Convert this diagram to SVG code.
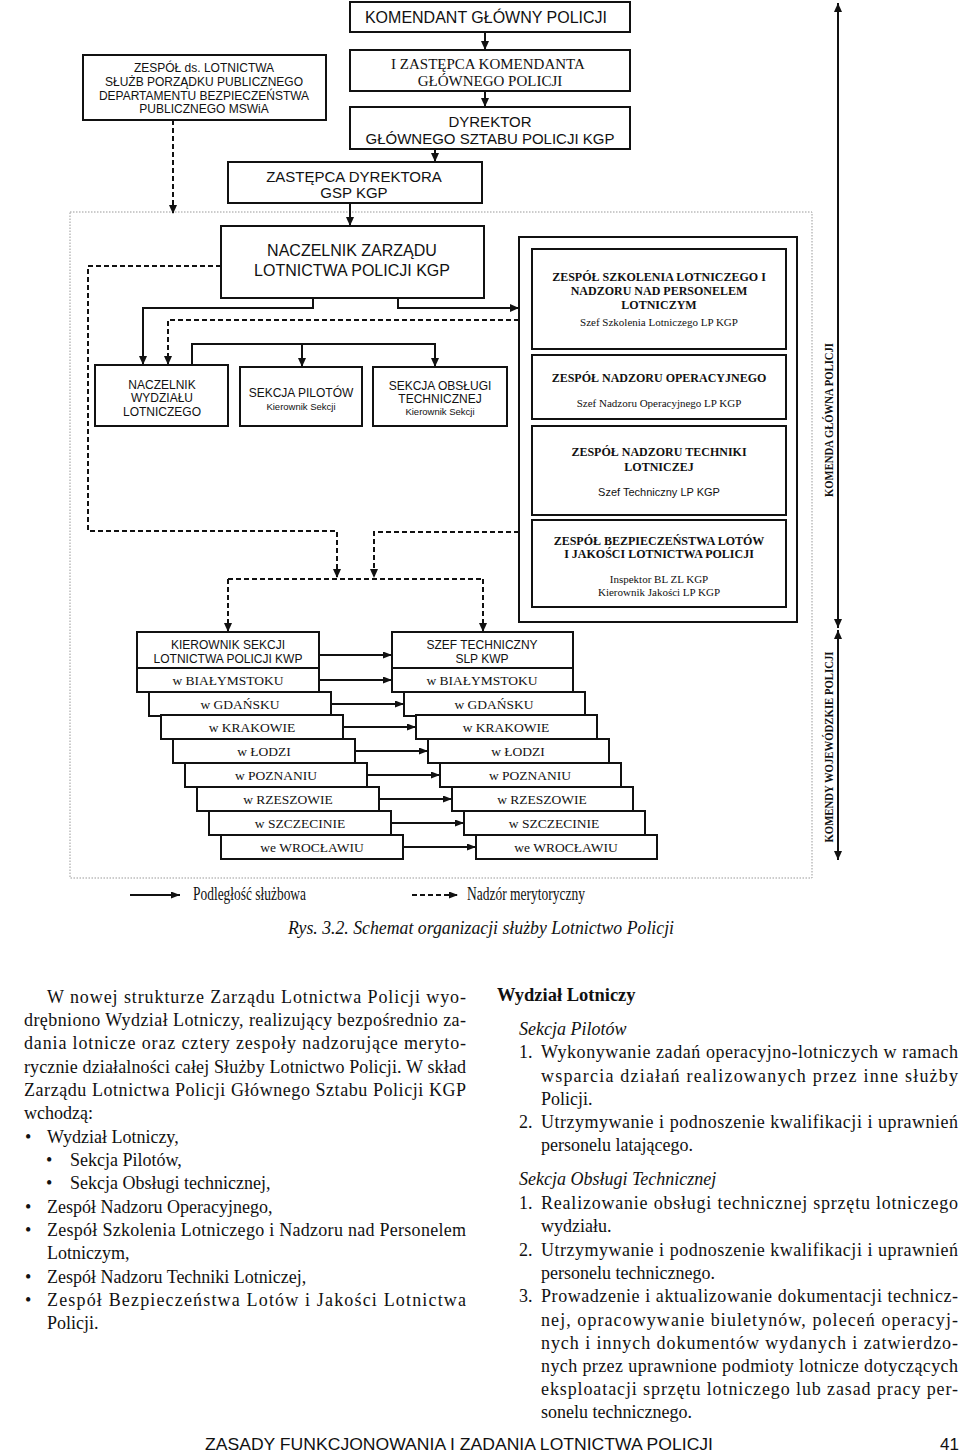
<svg xmlns="http://www.w3.org/2000/svg" width="960" height="1452" viewBox="0 0 960 1452">
<defs>
<marker id="ah" markerWidth="9" markerHeight="8" refX="9" refY="4" orient="auto-start-reverse" markerUnits="userSpaceOnUse"><path d="M0,0 L9,4 L0,8 z" fill="#111"/></marker>
<marker id="ahs" markerWidth="9" markerHeight="7" refX="9" refY="3.5" orient="auto" markerUnits="userSpaceOnUse"><path d="M0,0 L9,3.5 L0,7 z" fill="#111"/></marker>
<style>
.box{fill:#fff;stroke:#111;stroke-width:2}
.ln{fill:none;stroke:#111;stroke-width:2}
.ds{fill:none;stroke:#111;stroke-width:2;stroke-dasharray:5,3}
.sa{font-family:"Liberation Sans",Arial,sans-serif;fill:#111;text-anchor:middle}
.se{font-family:"Liberation Serif","Times New Roman",serif;fill:#111;text-anchor:middle}
.sb{font-family:"Liberation Serif","Times New Roman",serif;fill:#111;text-anchor:middle;font-weight:bold;font-size:12px}
.city{font-family:"Liberation Serif","Times New Roman",serif;fill:#111;text-anchor:middle;font-size:13.5px}
.body{font-family:"Liberation Serif","Times New Roman",serif;fill:#111;font-size:18px}
</style>
</defs>

<!-- outer dotted frame -->
<rect x="70" y="212" width="742" height="666" fill="none" stroke="#999" stroke-width="1" stroke-dasharray="1.5,1.5"/>

<g id="connectors">
<line class="ln" x1="485" y1="32" x2="485" y2="50" marker-end="url(#ah)"/>
<line class="ln" x1="485" y1="91" x2="485" y2="107" marker-end="url(#ah)"/>
<line class="ln" x1="435" y1="149" x2="435" y2="162" marker-end="url(#ah)"/>
<line class="ln" x1="350" y1="203" x2="350" y2="226" marker-end="url(#ah)"/>
<line class="ds" x1="173" y1="120" x2="173" y2="214" marker-end="url(#ah)"/>
<polyline class="ds" points="221,266 88,266 88,531 337,531 337,578" marker-end="url(#ah)"/>
<polyline class="ds" points="519,532 374,532 374,578" marker-end="url(#ah)"/>
<line class="ds" x1="228" y1="579" x2="483" y2="579"/>
<line class="ds" x1="228" y1="579" x2="228" y2="632" marker-end="url(#ah)"/>
<line class="ds" x1="483" y1="579" x2="483" y2="632" marker-end="url(#ah)"/>
<polyline class="ln" points="313,298 313,308 143,308 143,365" marker-end="url(#ah)"/>
<polyline class="ln" points="398,298 398,308 519,308" marker-end="url(#ah)"/>
<polyline class="ds" points="519,320 168,320 168,365" marker-end="url(#ah)"/>
<polyline class="ln" points="192,365 192,344 435,344 435,367" marker-end="url(#ah)"/>
<line class="ln" x1="302" y1="344" x2="302" y2="367" marker-end="url(#ah)"/>
<line class="ln" x1="319" y1="655" x2="392" y2="655" marker-end="url(#ahs)"/>
<line class="ln" x1="319" y1="680" x2="392" y2="680" marker-end="url(#ahs)"/>
<line class="ln" x1="331" y1="704" x2="404" y2="704" marker-end="url(#ahs)"/>
<line class="ln" x1="343" y1="727" x2="416" y2="727" marker-end="url(#ahs)"/>
<line class="ln" x1="355" y1="751" x2="428" y2="751" marker-end="url(#ahs)"/>
<line class="ln" x1="367" y1="775" x2="440" y2="775" marker-end="url(#ahs)"/>
<line class="ln" x1="379" y1="799" x2="452" y2="799" marker-end="url(#ahs)"/>
<line class="ln" x1="391" y1="823" x2="464" y2="823" marker-end="url(#ahs)"/>
<line class="ln" x1="403" y1="847" x2="476" y2="847" marker-end="url(#ahs)"/>
<line class="ln" x1="838" y1="3" x2="838" y2="628" marker-start="url(#ah)" marker-end="url(#ah)"/>
<line class="ln" x1="838" y1="630" x2="838" y2="860" marker-start="url(#ah)" marker-end="url(#ah)"/>
<line class="ln" x1="130" y1="895" x2="180" y2="895" marker-end="url(#ahs)"/>
<line class="ds" x1="412" y1="895" x2="458" y2="895" stroke-dasharray="4,3" marker-end="url(#ahs)"/>
</g>

<g id="komendant"><rect class="box" x="350" y="2" width="280" height="30"/><text class="sa" x="486" y="23" font-size="16">KOMENDANT GŁÓWNY POLICJI</text></g>
<g id="zastepca-komendanta"><rect class="box" x="350" y="50" width="280" height="41"/><text class="se" x="488" y="69" font-size="15">I ZASTĘPCA KOMENDANTA</text><text class="se" x="490" y="86" font-size="15">GŁÓWNEGO POLICJI</text></g>
<g id="dyrektor"><rect class="box" x="350" y="107" width="280" height="42"/><text class="sa" x="490" y="127" font-size="15">DYREKTOR</text><text class="sa" x="490" y="144" font-size="15">GŁÓWNEGO SZTABU POLICJI KGP</text></g>
<g id="zastepca-dyrektora"><rect class="box" x="228" y="162" width="254" height="41"/><text class="sa" x="354" y="182" font-size="15">ZASTĘPCA DYREKTORA</text><text class="sa" x="354" y="198" font-size="15">GSP KGP</text></g>
<g id="zespol-mswia"><rect class="box" x="83" y="55" width="243" height="65"/>
<text class="sa" x="204" y="72" font-size="12">ZESPÓŁ ds. LOTNICTWA</text>
<text class="sa" x="204" y="86" font-size="12">SŁUŻB PORZĄDKU PUBLICZNEGO</text>
<text class="sa" x="204" y="100" font-size="12">DEPARTAMENTU BEZPIECZEŃSTWA</text>
<text class="sa" x="204" y="113" font-size="12">PUBLICZNEGO MSWiA</text></g>

<g id="naczelnik-zarzadu"><rect class="box" x="221" y="226" width="263" height="72"/><text class="sa" x="352" y="256" font-size="16">NACZELNIK ZARZĄDU</text><text class="sa" x="352" y="276" font-size="16">LOTNICTWA POLICJI KGP</text></g>

<g id="naczelnik-wydzialu"><rect class="box" x="95" y="365" width="133" height="61"/><text class="sa" x="162" y="389" font-size="12">NACZELNIK</text><text class="sa" x="162" y="402" font-size="12">WYDZIAŁU</text><text class="sa" x="162" y="416" font-size="12">LOTNICZEGO</text></g>
<g id="sekcja-pilotow"><rect class="box" x="240" y="367" width="122" height="59"/><text class="sa" x="301" y="397" font-size="12">SEKCJA PILOTÓW</text><text class="sa" x="301" y="410" font-size="9.5">Kierownik Sekcji</text></g>
<g id="sekcja-obslugi"><rect class="box" x="373" y="367" width="134" height="59"/><text class="sa" x="440" y="390" font-size="12">SEKCJA OBSŁUGI</text><text class="sa" x="440" y="403" font-size="12">TECHNICZNEJ</text><text class="sa" x="440" y="415" font-size="9.5">Kierownik Sekcji</text></g>

<g id="zespoly-kgp"><rect class="box" x="519" y="237" width="278" height="385"/>
<g id="zespol-szkolenia"><rect class="box" x="532" y="249" width="254" height="100"/>
<text class="sb" x="659" y="281">ZESPÓŁ SZKOLENIA LOTNICZEGO I</text>
<text class="sb" x="659" y="295">NADZORU NAD PERSONELEM</text>
<text class="sb" x="659" y="309">LOTNICZYM</text>
<text class="se" x="659" y="326" font-size="11">Szef Szkolenia Lotniczego LP KGP</text></g>
<g id="zespol-operacyjny"><rect class="box" x="532" y="355" width="254" height="64"/>
<text class="sb" x="659" y="382">ZESPÓŁ NADZORU OPERACYJNEGO</text>
<text class="se" x="659" y="407" font-size="11">Szef  Nadzoru Operacyjnego LP KGP</text></g>
<g id="zespol-techniki"><rect class="box" x="532" y="426" width="254" height="89"/>
<text class="sb" x="659" y="456">ZESPÓŁ NADZORU TECHNIKI</text>
<text class="sb" x="659" y="471">LOTNICZEJ</text>
<text class="sa" x="659" y="496" font-size="11">Szef Techniczny LP KGP</text></g>
<g id="zespol-bezpieczenstwa"><rect class="box" x="532" y="520" width="254" height="87"/>
<text class="sb" x="659" y="545">ZESPÓŁ BEZPIECZEŃSTWA LOTÓW</text>
<text class="sb" x="659" y="558">I JAKOŚCI LOTNICTWA POLICJI</text>
<text class="se" x="659" y="583" font-size="11">Inspektor BL ZL KGP</text>
<text class="se" x="659" y="596" font-size="11">Kierownik Jakości LP KGP</text></g>
</g>

<g id="kwp-kierownicy">
<rect class="box" x="137" y="632" width="182" height="36"/>
<text class="sa" x="228" y="649" font-size="12">KIEROWNIK SEKCJI</text>
<text class="sa" x="228" y="663" font-size="12">LOTNICTWA POLICJI KWP</text>
<rect class="box" x="137" y="668" width="182" height="24"/><text class="city" x="228" y="685">w BIAŁYMSTOKU</text>
<rect class="box" x="149" y="692" width="182" height="24"/><text class="city" x="240" y="709">w GDAŃSKU</text>
<rect class="box" x="161" y="715" width="182" height="24"/><text class="city" x="252" y="732">w KRAKOWIE</text>
<rect class="box" x="173" y="739" width="182" height="24"/><text class="city" x="264" y="756">w ŁODZI</text>
<rect class="box" x="185" y="763" width="182" height="24"/><text class="city" x="276" y="780">w POZNANIU</text>
<rect class="box" x="197" y="787" width="182" height="24"/><text class="city" x="288" y="804">w RZESZOWIE</text>
<rect class="box" x="209" y="811" width="182" height="24"/><text class="city" x="300" y="828">w SZCZECINIE</text>
<rect class="box" x="221" y="835" width="182" height="24"/><text class="city" x="312" y="852">we WROCŁAWIU</text>
</g>

<g id="kwp-szefowie">
<rect class="box" x="392" y="632" width="181" height="36"/>
<text class="sa" x="482" y="649" font-size="12">SZEF TECHNICZNY</text>
<text class="sa" x="482" y="663" font-size="12">SLP KWP</text>
<rect class="box" x="392" y="668" width="181" height="24"/><text class="city" x="482" y="685">w BIAŁYMSTOKU</text>
<rect class="box" x="404" y="692" width="181" height="24"/><text class="city" x="494" y="709">w GDAŃSKU</text>
<rect class="box" x="416" y="715" width="181" height="24"/><text class="city" x="506" y="732">w KRAKOWIE</text>
<rect class="box" x="428" y="739" width="181" height="24"/><text class="city" x="518" y="756">w ŁODZI</text>
<rect class="box" x="440" y="763" width="181" height="24"/><text class="city" x="530" y="780">w POZNANIU</text>
<rect class="box" x="452" y="787" width="181" height="24"/><text class="city" x="542" y="804">w RZESZOWIE</text>
<rect class="box" x="464" y="811" width="181" height="24"/><text class="city" x="554" y="828">w SZCZECINIE</text>
<rect class="box" x="476" y="835" width="181" height="24"/><text class="city" x="566" y="852">we WROCŁAWIU</text>
</g>

<g id="labels-vertical">
<text class="sb" font-size="10" transform="translate(833,420) rotate(-90)" textLength="154" lengthAdjust="spacingAndGlyphs">KOMENDA GŁÓWNA POLICJI</text>
<text class="sb" font-size="10" transform="translate(833,747) rotate(-90)" textLength="191" lengthAdjust="spacingAndGlyphs">KOMENDY WOJEWÓDZKIE POLICJI</text>
</g>

<g id="legend">
<text class="body" x="193" y="900" font-size="14" textLength="113" lengthAdjust="spacingAndGlyphs">Podległość służbowa</text>
<text class="body" x="467" y="900" font-size="14" textLength="118" lengthAdjust="spacingAndGlyphs">Nadzór merytoryczny</text>
<text class="body" x="288" y="934" font-size="19" font-style="italic" textLength="386" lengthAdjust="spacingAndGlyphs">Rys. 3.2. Schemat organizacji służby Lotnictwo Policji</text>
</g>

<g id="text-left" class="body">
<text x="47" y="1003" textLength="419" lengthAdjust="spacing">W nowej strukturze Zarządu Lotnictwa Policji wyo-</text>
<text x="24" y="1026" textLength="442" lengthAdjust="spacing">drębniono Wydział Lotniczy, realizujący bezpośrednio za-</text>
<text x="24" y="1049" textLength="442" lengthAdjust="spacing">dania lotnicze oraz cztery zespoły nadzorujące meryto-</text>
<text x="24" y="1073" textLength="442" lengthAdjust="spacing">rycznie działalności całej Służby Lotnictwo Policji. W skład</text>
<text x="24" y="1096" textLength="442" lengthAdjust="spacing">Zarządu Lotnictwa Policji Głównego Sztabu Policji KGP</text>
<text x="24" y="1119">wchodzą:</text>
<text x="25" y="1143">•</text><text x="47" y="1143">Wydział Lotniczy,</text>
<text x="46" y="1166">•</text><text x="70" y="1166">Sekcja Pilotów,</text>
<text x="46" y="1189">•</text><text x="70" y="1189">Sekcja Obsługi technicznej,</text>
<text x="25" y="1213">•</text><text x="47" y="1213">Zespół Nadzoru Operacyjnego,</text>
<text x="25" y="1236">•</text><text x="47" y="1236" textLength="419" lengthAdjust="spacing">Zespół Szkolenia Lotniczego i Nadzoru nad Personelem</text>
<text x="47" y="1259">Lotniczym,</text>
<text x="25" y="1283">•</text><text x="47" y="1283">Zespół Nadzoru Techniki Lotniczej,</text>
<text x="25" y="1306">•</text><text x="47" y="1306" textLength="419" lengthAdjust="spacing">Zespół Bezpieczeństwa Lotów i Jakości Lotnictwa</text>
<text x="47" y="1329">Policji.</text>
</g>

<g id="text-right" class="body">
<text x="497" y="1001" font-weight="bold" font-size="18.5">Wydział Lotniczy</text>
<text x="519" y="1035" font-style="italic">Sekcja Pilotów</text>
<text x="519" y="1058">1.</text><text x="541" y="1058" textLength="417" lengthAdjust="spacing">Wykonywanie zadań operacyjno-lotniczych w ramach</text>
<text x="541" y="1082" textLength="417" lengthAdjust="spacing">wsparcia działań realizowanych przez inne służby</text>
<text x="541" y="1105">Policji.</text>
<text x="519" y="1128">2.</text><text x="541" y="1128" textLength="417" lengthAdjust="spacing">Utrzymywanie i podnoszenie kwalifikacji i uprawnień</text>
<text x="541" y="1151">personelu latającego.</text>
<text x="519" y="1185" font-style="italic">Sekcja Obsługi Technicznej</text>
<text x="519" y="1209">1.</text><text x="541" y="1209" textLength="417" lengthAdjust="spacing">Realizowanie obsługi technicznej sprzętu lotniczego</text>
<text x="541" y="1232">wydziału.</text>
<text x="519" y="1256">2.</text><text x="541" y="1256" textLength="417" lengthAdjust="spacing">Utrzymywanie i podnoszenie kwalifikacji i uprawnień</text>
<text x="541" y="1279">personelu technicznego.</text>
<text x="519" y="1302">3.</text><text x="541" y="1302" textLength="417" lengthAdjust="spacing">Prowadzenie i aktualizowanie dokumentacji technicz-</text>
<text x="541" y="1326" textLength="417" lengthAdjust="spacing">nej, opracowywanie biuletynów, poleceń operacyj-</text>
<text x="541" y="1349" textLength="417" lengthAdjust="spacing">nych i innych dokumentów wydanych i zatwierdzo-</text>
<text x="541" y="1372" textLength="417" lengthAdjust="spacing">nych przez uprawnione podmioty lotnicze dotyczących</text>
<text x="541" y="1395" textLength="417" lengthAdjust="spacing">eksploatacji sprzętu lotniczego lub zasad pracy per-</text>
<text x="541" y="1418">sonelu technicznego.</text>
</g>

<g id="footer">
<text x="205" y="1450" font-family="Liberation Sans, Arial, sans-serif" font-size="17" fill="#111" textLength="508" lengthAdjust="spacingAndGlyphs">ZASADY FUNKCJONOWANIA I ZADANIA LOTNICTWA POLICJI</text>
<text x="940" y="1450" font-family="Liberation Sans, Arial, sans-serif" font-size="17" fill="#111">41</text>
</g>
</svg>
